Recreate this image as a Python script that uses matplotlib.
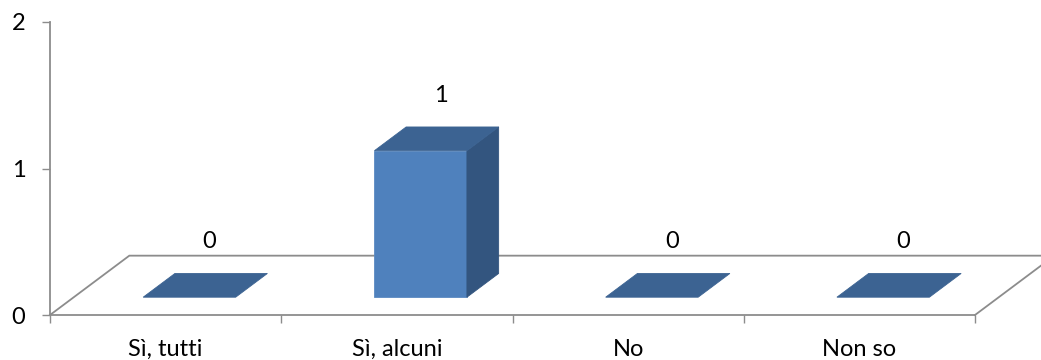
import matplotlib.pyplot as plt
from matplotlib.patches import Polygon

categories = ['Sì, tutti', 'Sì, alcuni', 'No', 'Non so']
values = [0, 1, 0, 0]
y_ticks = [0, 1, 2]

# fake 3D look: depth offset of the floor, in data units
DX, DY = 0.343, 0.405
BAR_W = 0.4
D0, D1 = 0.3, 0.7   # bar depth span as a fraction of the floor depth

front_c = '#4F81BD'
top_c = '#3C6392'
side_c = '#33557F'
line_c = '#8C8C8C'

plt.rcParams['font.family'] = ['Lato', 'DejaVu Sans']

fig = plt.figure(figsize=(10.41, 3.6), dpi=100)
ax = fig.add_axes([50 / 1041, 45 / 360, 925 / 1041, 293 / 360])
ax.set_xlim(0, len(categories))
ax.set_ylim(0, 2)

# floor outline
n = len(categories)
ax.plot([0, DX, n + DX, n], [0, DY, DY, 0], color=line_c, lw=1.3,
        clip_on=False, zorder=1, solid_joinstyle='miter')

for i, v in enumerate(values):
    x0 = i + 0.5 - BAR_W / 2 + D0 * DX
    x1 = x0 + BAR_W
    y0 = D0 * DY
    ox, oy = (D1 - D0) * DX, (D1 - D0) * DY
    if v > 0:
        ax.add_patch(Polygon([(x0, y0), (x1, y0), (x1, y0 + v), (x0, y0 + v)],
                             closed=True, fc=front_c, ec='#5B8AC2', lw=0.6, zorder=3))
        ax.add_patch(Polygon([(x1, y0), (x1 + ox, y0 + oy), (x1 + ox, y0 + oy + v),
                              (x1, y0 + v)], closed=True, fc=side_c, ec=side_c,
                             lw=0.6, zorder=3))
    ax.add_patch(Polygon([(x0, y0 + v), (x1, y0 + v), (x1 + ox, y0 + oy + v),
                          (x0 + ox, y0 + oy + v)], closed=True, fc=top_c, ec=top_c,
                         lw=0.6, zorder=3))
    ax.text(i + 0.5 + 0.55 * DX, v + 0.5, str(v), ha='center', va='center',
            fontsize=17, color='black', zorder=4)

for s in ['top', 'right']:
    ax.spines[s].set_visible(False)
for s in ['left', 'bottom']:
    ax.spines[s].set_color(line_c)
    ax.spines[s].set_linewidth(1.3)
    ax.spines[s].set_zorder(2)

ax.set_yticks(y_ticks)
ax.set_yticklabels([str(t) for t in y_ticks])
ax.tick_params(axis='y', direction='out', length=5.8, width=1, color=line_c,
               labelsize=17, pad=12)

ax.set_xticks(range(n + 1))
ax.set_xticklabels([])
ax.set_xticks([i + 0.5 for i in range(n)], minor=True)
ax.set_xticklabels(categories, minor=True)
ax.tick_params(axis='x', which='major', direction='out', length=5.8, width=1,
               color=line_c)
ax.tick_params(axis='x', which='minor', length=0, labelsize=17, pad=17)

ax.patch.set_visible(False)
fig.savefig('out.png', dpi=100, facecolor='white')
